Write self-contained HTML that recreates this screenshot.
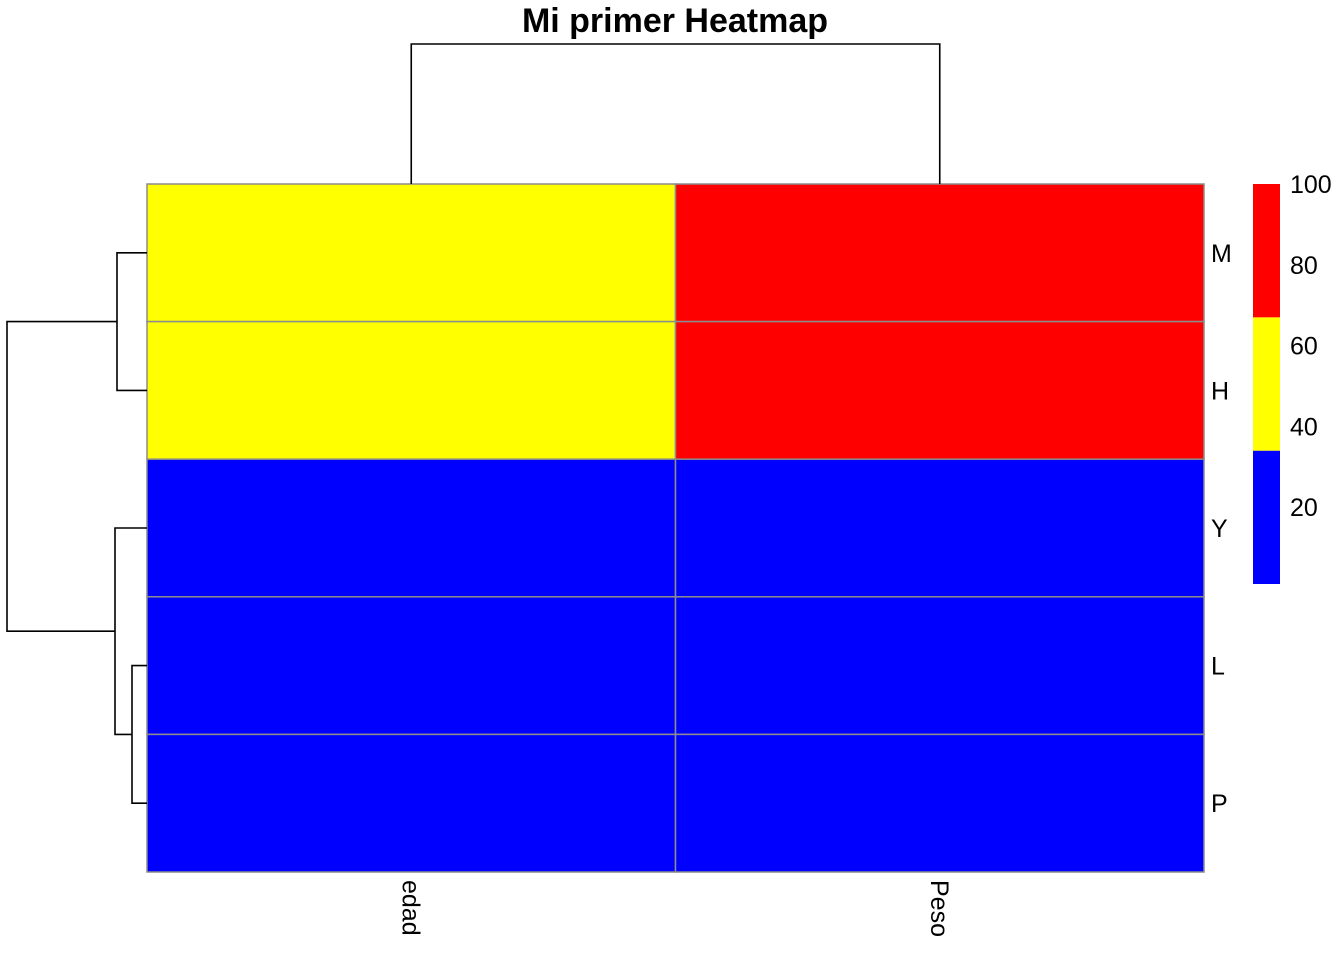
<!DOCTYPE html>
<html><head><meta charset="utf-8"><style>
body{margin:0;background:#fff;}
svg text{font-family:"Liberation Sans",Arial,sans-serif;}
</style></head><body>
<svg width="1344" height="960" viewBox="0 0 1344 960">
<text x="675" y="32" text-anchor="middle" font-size="34" font-weight="bold">Mi primer Heatmap</text>
<g id="cells"></g>
<g id="dendro" fill="none" stroke="#000" stroke-width="1.6"></g>
<g id="labels"></g>
<g id="legend"></g>
</svg>
<script>
const rows = ["M","H","Y","L","P"];
const cols = ["edad","Peso"];
const edadValues = [50, 52, 10, 8, 7];
const pesoValues = [90, 88, 15, 12, 11];
const legendTicks = [20, 40, 60, 80, 100];
const breaks = [1, 34, 67, 100];
const palette = ["#0000FF","#FFFF00","#FF0000"];

const NS="http://www.w3.org/2000/svg";
function mk(tag, attrs, parent){const e=document.createElementNS(NS,tag);for(const k in attrs)e.setAttribute(k,attrs[k]);parent.appendChild(e);return e;}
const X0=147,X1=1204,Y0=184,Y1=872;
const cw=(X1-X0)/cols.length, rh=(Y1-Y0)/rows.length;
function colX(i){return X0+i*cw;}
function rowY(i){return Y0+i*rh;}
function colorOf(v){for(let i=0;i<palette.length;i++){if(v<=breaks[i+1])return palette[i];}return palette[palette.length-1];}
const cells=document.getElementById('cells');
const series=[edadValues,pesoValues];
for(let c=0;c<cols.length;c++)for(let r=0;r<rows.length;r++){
  const el=mk('rect',{x:colX(c),y:rowY(r),width:cw,height:rh,fill:colorOf(series[c][r]),stroke:'#8c8c8c','stroke-width':1.5},cells);
  
  
}
const lab=document.getElementById('labels');
rows.forEach((r,i)=>{const t=mk('text',{x:1211,y:rowY(i)+rh/2+9,'font-size':25},lab);t.textContent=r;
  
  });
cols.forEach((c,i)=>{const x=colX(i)+cw/2;const t=mk('text',{x:x,y:880,'font-size':25,transform:`rotate(90 ${x} 880)`,dy:'9'},lab);
  t.textContent=c;
  
  });
const d=document.getElementById('dendro');
function path(p,name){const e=mk('path',{d:p},d);}
const cy=i=>rowY(i)+rh/2, cx=i=>colX(i)+cw/2;
path(`M${cx(0)},${Y0}V44H${cx(1)}V${Y0}`,'column-dendrogram');
const mh=(cy(0)+cy(1))/2, lp=(cy(3)+cy(4))/2, ylp=(cy(2)+lp)/2;
path(`M${X0},${cy(0)}H117V${cy(1)}H${X0}`,'row-dendrogram-mh');
path(`M${X0},${cy(3)}H132V${cy(4)}H${X0}`,'row-dendrogram-lp');
path(`M${X0},${cy(2)}H115V${lp}H132`,'row-dendrogram-ylp');
path(`M117,${mh}H7V${ylp}H115`,'row-dendrogram-root');
const lg=document.getElementById('legend');
const LT=184,LB=584;
const ly=v=>LB-(v-breaks[0])/(breaks[breaks.length-1]-breaks[0])*(LB-LT);
for(let i=0;i<palette.length;i++){const e=mk('rect',{x:1253,y:ly(breaks[i+1]),width:27,height:ly(breaks[i])-ly(breaks[i+1]),fill:palette[i]},lg);
  
  }
legendTicks.forEach(v=>{const t=mk('text',{x:1290,y:ly(v)+9,'font-size':25},lg);t.textContent=v;
  
  });
</script>
</body></html>
